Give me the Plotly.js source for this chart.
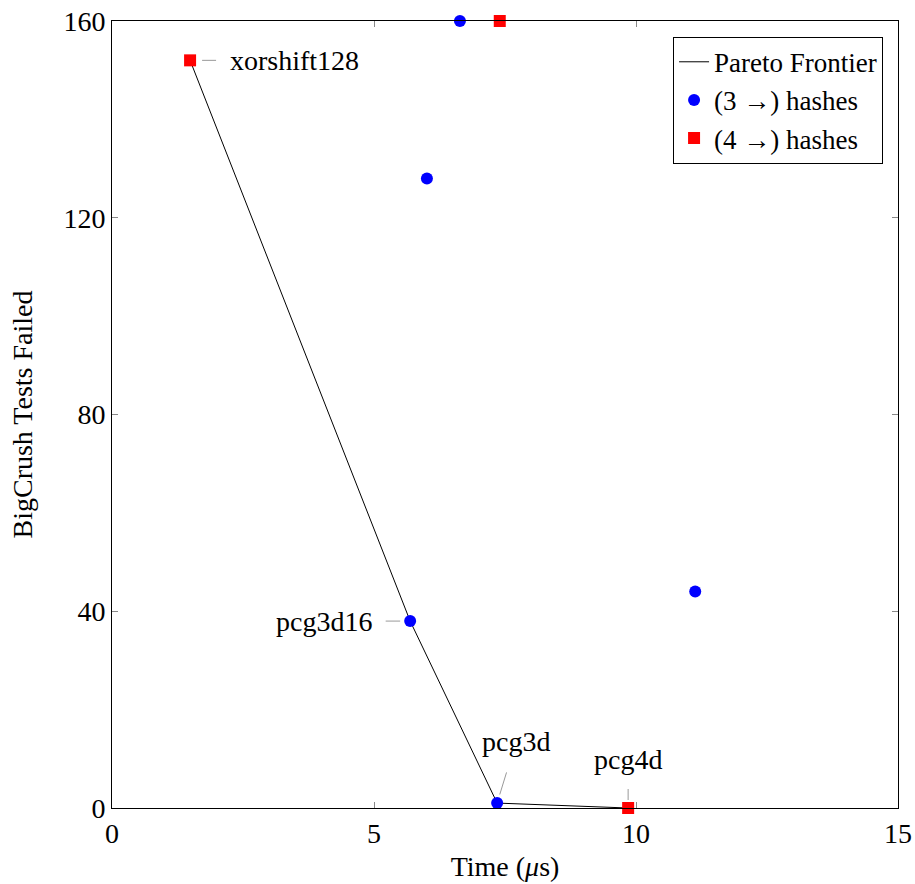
<!DOCTYPE html>
<html><head><meta charset="utf-8">
<script src="https://cdn.plot.ly/plotly-3.0.1.min.js"></script>
<style>html,body{margin:0;padding:0;background:#fff}</style>
</head><body>
<div id="chart" style="width:915px;height:884px"></div>
<script>
const frontierX = [1.49, 5.69, 7.35, 9.85];
const frontierY = [152, 38, 1, 0];
const hash3X = [6.64, 6.01, 5.69, 7.35, 11.13];
const hash3Y = [160, 128, 38, 1, 44];
const hash4X = [1.49, 7.40, 9.85];
const hash4Y = [152, 160, 0];
const labelNames = ['xorshift128', 'pcg3d16', 'pcg3d', 'pcg4d'];
const labelX = [1.49, 5.69, 7.35, 9.85];
const labelY = [152, 38, 1, 0];
const labelAx = [104, -86, 19, 0];
const labelAy = [0, 0, -62, -49];
const labelStart = [12, 12, 15, 13];
const labelStand = [12, 10, 9, 8];
const xTicks = [0, 5, 10, 15];
const yTicks = [0, 40, 80, 120, 160];

const F = 'Liberation Serif';
function fnt(size) { return {family: F, size: size, color: '#000'}; }
const traces = [
  {x: frontierX, y: frontierY, mode: 'lines', name: 'Pareto Frontier',
   line: {color: 'black', width: 1}, cliponaxis: false},
  {x: hash3X, y: hash3Y, mode: 'markers', name: '(3 →) hashes',
   marker: {color: 'blue', size: 12, symbol: 'circle'}, cliponaxis: false},
  {x: hash4X, y: hash4Y, mode: 'markers', name: '(4 →) hashes',
   marker: {color: 'red', size: 12, symbol: 'square'}, cliponaxis: false}
];
const annotations = labelNames.map((t, i) => ({
  x: labelX[i], y: labelY[i], text: t, showarrow: true, arrowhead: 0,
  arrowwidth: 1, arrowcolor: '#999', ax: labelAx[i], ay: labelAy[i],
  startstandoff: labelStart[i], standoff: labelStand[i],
  font: fnt(28)
}));
function axis(range, ticks, title, standoff) {
  return {
    range: range, tickvals: ticks, tickmode: 'array',
    showgrid: false, zeroline: false, showline: true, linecolor: 'black', linewidth: 1,
    mirror: 'ticks', ticks: 'inside', ticklen: 6, tickcolor: '#888', tickwidth: 1,
    tickfont: fnt(28),
    title: {text: title, font: fnt(28), standoff: standoff}
  };
}
const layout = {
  width: 915, height: 884,
  margin: {l: 112, r: 17, t: 21, b: 76},
  paper_bgcolor: 'white', plot_bgcolor: 'white',
  font: fnt(28),
  xaxis: axis([0, 15], xTicks, 'Time (<i>μ</i>s)', 8),
  yaxis: axis([0, 160], yTicks, 'BigCrush Tests Failed', 22),
  legend: {x: 0.981, y: 0.98, xanchor: 'right', yanchor: 'top',
    bordercolor: 'black', borderwidth: 1, bgcolor: 'white',
    font: fnt(27), tracegroupgap: 0},
  showlegend: true,
  annotations: annotations
};
Plotly.newPlot('chart', traces, layout, {displayModeBar: false});
</script>
</body></html>
